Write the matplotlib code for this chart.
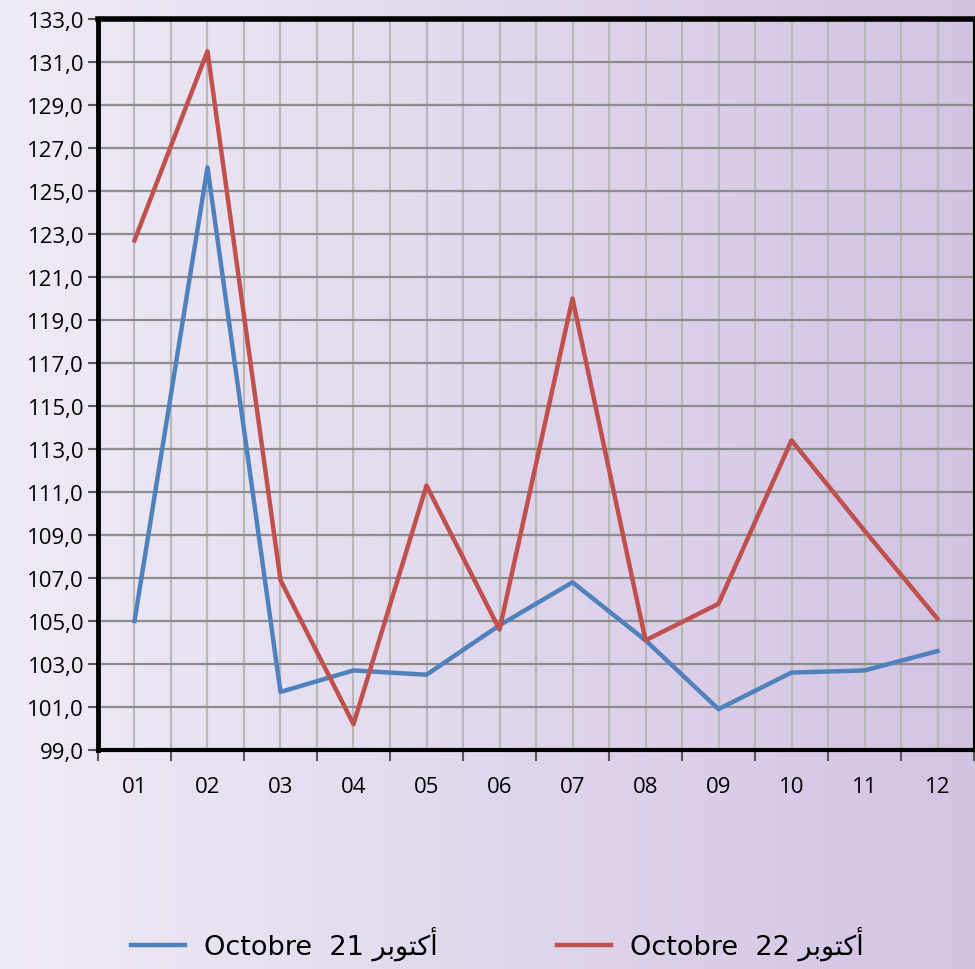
import numpy as np
import matplotlib.pyplot as plt
from matplotlib.ticker import FuncFormatter
from matplotlib.colors import LinearSegmentedColormap

# data
months = ['01', '02', '03', '04', '05', '06', '07', '08', '09', '10', '11', '12']
oct21 = [105.0, 126.1, 101.7, 102.7, 102.5, 104.8, 106.8, 104.1, 100.9, 102.6, 102.7, 103.6]
oct22 = [122.7, 131.5, 106.9, 100.2, 111.3, 104.6, 120.0, 104.1, 105.8, 113.4, 109.2, 105.1]
y_ticks = np.arange(99, 134, 2)

# Arabic word written with presentation forms in visual order, since matplotlib does not shape Arabic
ar_oct = '\uFEAE\uFE91\uFEEE\uFE98\uFEDB\uFE83'
labels = ['Octobre  21 ' + ar_oct, 'Octobre  22 ' + ar_oct]

plt.rcParams['font.family'] = ['Open Sans', 'DejaVu Sans']

fig = plt.figure(figsize=(9.75, 9.70), dpi=100)

# gradient background over the whole figure
bg = fig.add_axes([0, 0, 1, 1], zorder=-10)
cmap = LinearSegmentedColormap.from_list('bg', ['#efebf5', '#d2c3e3'])
bg.imshow(np.linspace(0, 1, 256).reshape(1, -1), aspect='auto', cmap=cmap, extent=[0, 1, 0, 1])
bg.axis('off')

ax = fig.add_axes([0.1005, 0.2258, 0.8985, 0.7536])
ax.set_facecolor('none')

x = np.arange(len(months))
ax.plot(x, oct21, color='#4f81bd', lw=3.2, label=labels[0], zorder=3)
ax.plot(x, oct22, color='#c0504d', lw=3.2, label=labels[1], zorder=3)

ax.set_xlim(-0.5, len(months) - 0.5)
ax.set_ylim(99, 133)
ax.set_yticks(y_ticks)
ax.yaxis.set_major_formatter(FuncFormatter(lambda v, p: f'{v:.1f}'.replace('.', ',')))
ax.set_xticks(x)
ax.set_xticklabels(months)
ax.set_xticks(np.arange(-0.5, len(months)), minor=True)

ax.grid(axis='y', which='major', color='#8c8c8c', lw=1.6, zorder=1)
ax.grid(axis='x', which='both', color='#b8b8b8', lw=1.6, zorder=1)
ax.set_axisbelow(True)

ax.tick_params(axis='y', labelsize=16, length=7, width=1.5, color='#555555', pad=3)
ax.tick_params(axis='x', which='major', labelsize=16, length=0, pad=19)
ax.tick_params(axis='x', which='minor', length=8, width=1.5, color='#555555')

ax.spines['top'].set_linewidth(4)
ax.spines['left'].set_linewidth(3.5)
ax.spines['bottom'].set_linewidth(3)
ax.spines['right'].set_linewidth(1.5)
for s in ax.spines.values():
    s.set_color('black')

fig.legend(loc='center', bbox_to_anchor=(0.51, 0.026), ncol=2, frameon=False,
           handlelength=2.0, handletextpad=0.7, columnspacing=4.4,
           prop={'family': ['DejaVu Sans'], 'size': 19.5})

fig.savefig('out.png', dpi=100)
